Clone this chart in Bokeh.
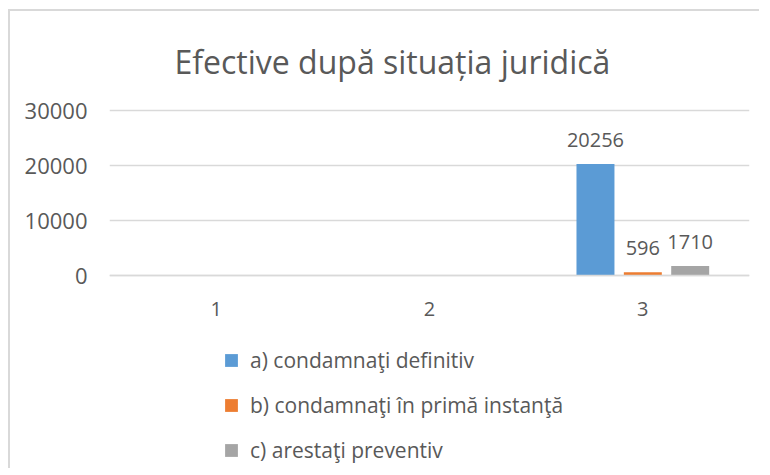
from bokeh.plotting import figure
from bokeh.models import ColumnDataSource, LabelSet, Legend, LegendItem, FixedTicker, FactorRange, Title
from bokeh.core.properties import value
from bokeh.transform import dodge
from bokeh.embed import file_html
from bokeh.resources import INLINE

# ---- data ----
categories = ["1", "2", "3"]
condamnati_definitiv = [0, 0, 20256]
condamnati_prima_instanta = [0, 0, 596]
arestati_preventiv = [0, 0, 1710]
series_names = ["a) condamnaţi definitiv", "b) condamnaţi în primă instanţă", "c) arestaţi preventiv"]
series_colors = ["#5b9bd5", "#ed7d31", "#a5a5a5"]
y_ticks = [0, 10000, 20000, 30000]
title_text = "Efective după situația juridică"

FONT = "Open Sans"
TXT = "#595959"

# value axis: 165 px per 30000; frame extended downward so the legend lies inside it
UPP = 30000 / 165.0
p = figure(x_range=FactorRange(*categories), y_range=(-193 * UPP, 30000 + 2 * UPP),
           width=756, height=460, output_backend="svg", toolbar_location=None,
           frame_width=640, frame_height=360,
           min_border_left=99, min_border_right=10, min_border_top=95, min_border_bottom=0)
p.margin = (9, 0, 0, 8)
p.outline_line_color = None
p.background_fill_color = "white"
p.border_fill_color = "white"
p.styles = {"border-left": "2px solid #d9d9d9", "border-top": "2px solid #d9d9d9"}

offsets = [-0.222, 0.0, 0.222]
all_series = [condamnati_definitiv, condamnati_prima_instanta, arestati_preventiv]
items = []
for name, vals, col, off in zip(series_names, all_series, series_colors, offsets):
    src = ColumnDataSource(dict(cat=categories, val=vals))
    r = p.vbar(x=dodge("cat", off, range=p.x_range), top="val", width=0.178, bottom=0,
               source=src, fill_color=col, line_color=None)
    items.append(LegendItem(label=name, renderers=[r]))
    lc = [c for c, v in zip(categories, vals) if v]
    lv = [v for v in vals if v]
    lsrc = ColumnDataSource(dict(cat=lc, val=lv, txt=[str(v) for v in lv]))
    p.add_layout(LabelSet(x=dodge("cat", off, range=p.x_range), y="val", text="txt", source=lsrc,
                          text_align="center", text_baseline="alphabetic", y_offset=17,
                          text_font=value(FONT), text_font_size=value("20px"), text_color=TXT))

# axes
p.yaxis.ticker = FixedTicker(ticks=y_ticks)
p.yaxis.axis_line_color = None
p.yaxis.major_tick_line_color = None
p.yaxis.minor_tick_line_color = None
p.yaxis.major_label_standoff = 16
p.yaxis.major_label_text_font = FONT
p.yaxis.major_label_text_font_size = "22px"
p.yaxis.major_label_text_color = TXT

p.xaxis.fixed_location = 0
p.xaxis.axis_line_color = "#d9d9d9"
p.xaxis.axis_line_width = 1.5
p.xaxis.major_tick_line_color = None
p.xaxis.minor_tick_line_color = None
p.xaxis.major_label_standoff = 20
p.xaxis.major_label_text_font = FONT
p.xaxis.major_label_text_font_size = "20px"
p.xaxis.major_label_text_color = TXT

p.xgrid.grid_line_color = None
p.ygrid.grid_line_color = "#d9d9d9"
p.ygrid.grid_line_width = 1.5
p.ygrid.ticker = FixedTicker(ticks=y_ticks)

# title
p.add_layout(Title(text=title_text, align="left", offset=65, standoff=52,
                   text_font=FONT, text_font_size="32px", text_font_style="normal",
                   text_color=TXT), "above")

legend = Legend(items=items, location=(114, 4), orientation="vertical",
                glyph_width=16, glyph_height=16, label_height=29, spacing=16,
                label_standoff=11, padding=0, margin=0,
                border_line_color=None, background_fill_alpha=0,
                label_text_font=FONT, label_text_font_size="21px", label_text_color=TXT)
p.add_layout(legend, "center")

open("out.html", "w").write(file_html(p, INLINE))
